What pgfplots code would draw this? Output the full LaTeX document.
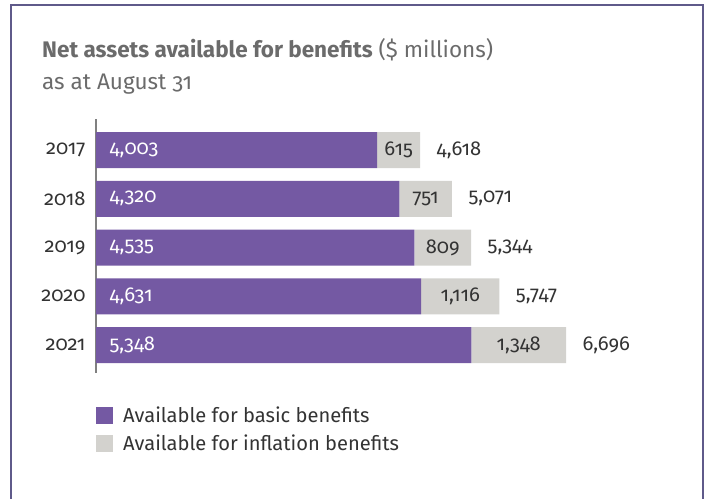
\documentclass[border=0pt]{standalone}
\usepackage{fontspec}
\setmainfont{Fira Sans}[Numbers=OldStyle]
\usepackage{pgfplots}
\pgfplotsset{compat=1.18}
\usepackage{pgfplotstable}
\definecolor{basic}{HTML}{7459A3}
\definecolor{infl}{HTML}{D3D2CE}
\definecolor{framec}{HTML}{5F5A8A}
\definecolor{txt}{HTML}{333333}
\definecolor{ttl}{HTML}{6B6B6B}

\pgfplotstableread{
idx basic infl total mid blab ilab tlab
0 4003 615 4618 4310.5 4,003 615 4,618
1 4320 751 5071 4695.5 4,320 751 5,071
2 4535 809 5344 4939.5 4,535 809 5,344
3 4631 1116 5747 5189 4,631 1,116 5,747
4 5348 1348 6696 6022 5,348 1,348 6,696
}\data

\newcommand{\fs}{\fontsize{20.2}{24}\selectfont}

\begin{document}
\begin{tikzpicture}
\useasboundingbox (0,0) rectangle (710bp,499bp);
\draw[framec, line width=1.3bp] (11bp,-10bp) -- (11bp,494bp) -- (703bp,494bp) -- (703bp,-10bp);
\node[anchor=base west, text=ttl, font=\fontsize{22.6}{26}\selectfont, inner sep=0] at (42bp,441bp) {\textbf{Net assets available for benefits} (\$ millions)};
\node[anchor=base west, text=ttl, font=\fontsize{22.6}{26}\selectfont, inner sep=0] at (42bp,409bp) {as at August 31};

\pgfplotsset{common/.style={
  scale only axis, width=561.6bp, height=254bp,
  xmin=0, xmax=8000, ymin=-0.636, ymax=4.574, y dir=reverse,
  at={(96bp,126bp)}, anchor=south west,
}}

\begin{axis}[common,
  xbar stacked, bar width=36bp,
  hide x axis, axis y line*=left,
  y axis line style={draw=black!50, line width=1.3bp, -},
  ytick={0,1,2,3,4}, yticklabels={2017,2018,2019,2020,2021},
  major tick length=0pt,
  yticklabel style={font=\fs, text=txt, xshift=-7bp},
  legend style={at={(0,-0.123)}, anchor=north west, draw=none, fill=none,
    font=\fs, text=txt, row sep=7.5bp, inner sep=0pt},
  legend cell align=left,
  legend image code/.code={\fill[#1] (0bp,-8.5bp) rectangle (17bp,8.5bp);},
]
\addplot[fill=basic, draw=none] table[x=basic, y=idx]{\data};
\addlegendentry{\hspace{8bp}Available for basic benefits}
\addplot[fill=infl, draw=none] table[x=infl, y=idx]{\data};
\addlegendentry{\hspace{8bp}Available for inflation benefits}
\end{axis}

\begin{axis}[common, hide axis]
\addplot[draw=none, mark=none, nodes near coords, point meta=explicit symbolic,
  nodes near coords style={anchor=west, xshift=10bp, text=white, font=\fs}]
  table[x expr=0, y=idx, meta=blab]{\data};
\addplot[draw=none, mark=none, nodes near coords, point meta=explicit symbolic,
  nodes near coords style={anchor=center, text=txt, font=\fs}]
  table[x=mid, y=idx, meta=ilab]{\data};
\addplot[draw=none, mark=none, nodes near coords, point meta=explicit symbolic,
  nodes near coords style={anchor=west, xshift=13bp, text=txt, font=\fs}]
  table[x=total, y=idx, meta=tlab]{\data};
\end{axis}
\end{tikzpicture}
\end{document}
